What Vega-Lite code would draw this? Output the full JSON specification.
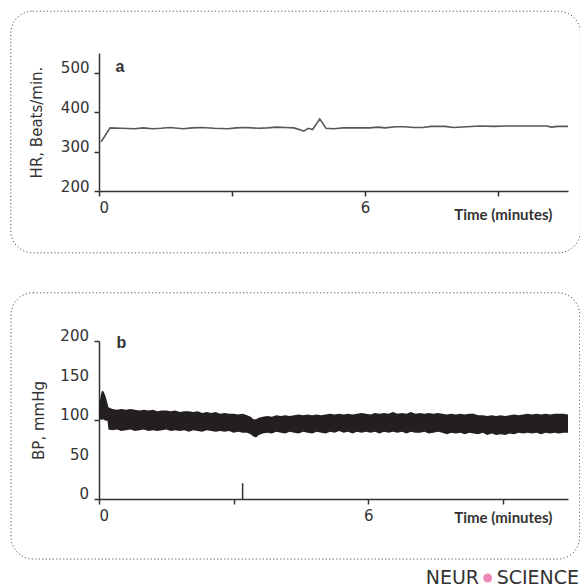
{
  "$schema": "https://vega.github.io/schema/vega-lite/v6.json",
  "padding": {"left": 10, "top": 10, "right": 0, "bottom": 0},
  "bounds": "flush",
  "spacing": 150,
  "config": {
    "view": {"stroke": null},
    "axis": {
      "grid": false,
      "domainColor": "#333",
      "tickColor": "#333",
      "labelColor": "#333",
      "titleColor": "#333",
      "domainWidth": 1.5,
      "tickWidth": 1.5,
      "tickSize": 5,
      "labelOverlap": false,
      "labelFont": "DejaVu Sans",
      "labelFontSize": 15,
      "titleFont": "DejaVu Sans",
      "titleFontSize": 15,
      "titleFontWeight": "normal"
    }
  },
  "datasets": {
    "hr": [
      {"t": 0.05, "hr": 325}, {"t": 0.25, "hr": 360}, {"t": 0.5, "hr": 359}, {"t": 0.8, "hr": 358},
      {"t": 1.0, "hr": 360}, {"t": 1.2, "hr": 358}, {"t": 1.4, "hr": 359}, {"t": 1.6, "hr": 361},
      {"t": 1.9, "hr": 358}, {"t": 2.1, "hr": 360}, {"t": 2.3, "hr": 361}, {"t": 2.6, "hr": 359},
      {"t": 2.9, "hr": 358}, {"t": 3.1, "hr": 360}, {"t": 3.3, "hr": 361}, {"t": 3.6, "hr": 359},
      {"t": 3.8, "hr": 360}, {"t": 4.0, "hr": 362}, {"t": 4.2, "hr": 361}, {"t": 4.4, "hr": 360},
      {"t": 4.55, "hr": 355}, {"t": 4.62, "hr": 352}, {"t": 4.72, "hr": 359}, {"t": 4.82, "hr": 356},
      {"t": 4.98, "hr": 383}, {"t": 5.12, "hr": 359}, {"t": 5.3, "hr": 358}, {"t": 5.5, "hr": 360},
      {"t": 5.8, "hr": 360}, {"t": 6.1, "hr": 360}, {"t": 6.3, "hr": 362}, {"t": 6.45, "hr": 360},
      {"t": 6.7, "hr": 363}, {"t": 6.9, "hr": 363}, {"t": 7.1, "hr": 361}, {"t": 7.3, "hr": 361},
      {"t": 7.5, "hr": 364}, {"t": 7.8, "hr": 364}, {"t": 8.0, "hr": 361}, {"t": 8.3, "hr": 363},
      {"t": 8.6, "hr": 365}, {"t": 8.9, "hr": 364}, {"t": 9.2, "hr": 365}, {"t": 9.5, "hr": 365},
      {"t": 9.8, "hr": 365}, {"t": 10.1, "hr": 365}, {"t": 10.2, "hr": 362}, {"t": 10.35, "hr": 364},
      {"t": 10.58, "hr": 364}
    ],
    "bp": [
      {"t": 0.0, "lo": 100, "hi": 117}, {"t": 0.03, "lo": 101, "hi": 128}, {"t": 0.06, "lo": 100, "hi": 136},
      {"t": 0.09, "lo": 101, "hi": 137}, {"t": 0.12, "lo": 100, "hi": 134}, {"t": 0.15, "lo": 99, "hi": 129},
      {"t": 0.19, "lo": 99, "hi": 121}, {"t": 0.21, "lo": 88, "hi": 116}, {"t": 0.3, "lo": 87, "hi": 114},
      {"t": 0.4, "lo": 88, "hi": 113}, {"t": 0.5, "lo": 86, "hi": 114}, {"t": 0.6, "lo": 87, "hi": 113},
      {"t": 0.7, "lo": 88, "hi": 114}, {"t": 0.8, "lo": 86, "hi": 113}, {"t": 0.9, "lo": 87, "hi": 112},
      {"t": 1.0, "lo": 88, "hi": 113}, {"t": 1.1, "lo": 86, "hi": 112}, {"t": 1.2, "lo": 87, "hi": 113},
      {"t": 1.3, "lo": 86, "hi": 111}, {"t": 1.4, "lo": 87, "hi": 112}, {"t": 1.5, "lo": 88, "hi": 112},
      {"t": 1.6, "lo": 86, "hi": 111}, {"t": 1.7, "lo": 87, "hi": 112}, {"t": 1.8, "lo": 86, "hi": 110},
      {"t": 1.9, "lo": 87, "hi": 111}, {"t": 2.0, "lo": 85, "hi": 111}, {"t": 2.1, "lo": 87, "hi": 110},
      {"t": 2.2, "lo": 86, "hi": 111}, {"t": 2.3, "lo": 85, "hi": 109}, {"t": 2.4, "lo": 87, "hi": 110},
      {"t": 2.5, "lo": 86, "hi": 109}, {"t": 2.6, "lo": 85, "hi": 110}, {"t": 2.7, "lo": 86, "hi": 108},
      {"t": 2.8, "lo": 85, "hi": 109}, {"t": 2.9, "lo": 86, "hi": 108}, {"t": 3.0, "lo": 84, "hi": 108},
      {"t": 3.1, "lo": 85, "hi": 107}, {"t": 3.2, "lo": 84, "hi": 108}, {"t": 3.3, "lo": 84, "hi": 106},
      {"t": 3.38, "lo": 82, "hi": 104}, {"t": 3.44, "lo": 79, "hi": 101}, {"t": 3.5, "lo": 78, "hi": 101},
      {"t": 3.56, "lo": 81, "hi": 103}, {"t": 3.65, "lo": 83, "hi": 104}, {"t": 3.75, "lo": 84, "hi": 105},
      {"t": 3.85, "lo": 83, "hi": 104}, {"t": 3.95, "lo": 85, "hi": 106}, {"t": 4.05, "lo": 84, "hi": 105},
      {"t": 4.15, "lo": 83, "hi": 106}, {"t": 4.25, "lo": 85, "hi": 105}, {"t": 4.35, "lo": 84, "hi": 106},
      {"t": 4.45, "lo": 83, "hi": 107}, {"t": 4.55, "lo": 85, "hi": 106}, {"t": 4.65, "lo": 84, "hi": 107},
      {"t": 4.75, "lo": 83, "hi": 106}, {"t": 4.85, "lo": 85, "hi": 107}, {"t": 4.95, "lo": 84, "hi": 106},
      {"t": 5.05, "lo": 83, "hi": 107}, {"t": 5.15, "lo": 85, "hi": 108}, {"t": 5.25, "lo": 84, "hi": 107},
      {"t": 5.35, "lo": 86, "hi": 108}, {"t": 5.45, "lo": 84, "hi": 107}, {"t": 5.55, "lo": 85, "hi": 108},
      {"t": 5.65, "lo": 83, "hi": 107}, {"t": 5.75, "lo": 85, "hi": 108}, {"t": 5.85, "lo": 84, "hi": 109},
      {"t": 5.95, "lo": 85, "hi": 108}, {"t": 6.05, "lo": 84, "hi": 107}, {"t": 6.15, "lo": 85, "hi": 109},
      {"t": 6.25, "lo": 83, "hi": 108}, {"t": 6.35, "lo": 85, "hi": 109}, {"t": 6.45, "lo": 84, "hi": 108},
      {"t": 6.55, "lo": 85, "hi": 110}, {"t": 6.65, "lo": 84, "hi": 108}, {"t": 6.75, "lo": 85, "hi": 109},
      {"t": 6.85, "lo": 83, "hi": 108}, {"t": 6.95, "lo": 85, "hi": 110}, {"t": 7.05, "lo": 84, "hi": 108},
      {"t": 7.15, "lo": 84, "hi": 109}, {"t": 7.25, "lo": 85, "hi": 108}, {"t": 7.35, "lo": 83, "hi": 109},
      {"t": 7.45, "lo": 84, "hi": 108}, {"t": 7.55, "lo": 85, "hi": 109}, {"t": 7.65, "lo": 84, "hi": 108},
      {"t": 7.75, "lo": 82, "hi": 107}, {"t": 7.85, "lo": 84, "hi": 108}, {"t": 7.95, "lo": 83, "hi": 107},
      {"t": 8.05, "lo": 84, "hi": 108}, {"t": 8.15, "lo": 82, "hi": 107}, {"t": 8.25, "lo": 84, "hi": 108},
      {"t": 8.35, "lo": 83, "hi": 108}, {"t": 8.45, "lo": 82, "hi": 106}, {"t": 8.55, "lo": 84, "hi": 106},
      {"t": 8.65, "lo": 81, "hi": 105}, {"t": 8.75, "lo": 83, "hi": 106}, {"t": 8.85, "lo": 81, "hi": 105},
      {"t": 8.95, "lo": 82, "hi": 106}, {"t": 9.05, "lo": 81, "hi": 105}, {"t": 9.15, "lo": 83, "hi": 106},
      {"t": 9.25, "lo": 82, "hi": 107}, {"t": 9.35, "lo": 84, "hi": 106}, {"t": 9.45, "lo": 83, "hi": 107},
      {"t": 9.55, "lo": 84, "hi": 108}, {"t": 9.65, "lo": 83, "hi": 107}, {"t": 9.75, "lo": 84, "hi": 108},
      {"t": 9.85, "lo": 82, "hi": 107}, {"t": 9.95, "lo": 84, "hi": 108}, {"t": 10.05, "lo": 83, "hi": 107},
      {"t": 10.15, "lo": 84, "hi": 108}, {"t": 10.25, "lo": 83, "hi": 108}, {"t": 10.35, "lo": 84, "hi": 108},
      {"t": 10.45, "lo": 84, "hi": 107}
    ],
    "bpTicks": [{"v": 0}, {"v": 50}, {"v": 100}, {"v": 150}, {"v": 200}]
  },
  "vconcat": [
    {
      "width": 469,
      "height": 138,
      "layer": [
        {
          "data": {"name": "hr"},
          "mark": {"type": "line", "color": "#585858", "strokeWidth": 1.6},
          "encoding": {
            "x": {
              "field": "t", "type": "quantitative",
              "scale": {"domain": [0, 10.58], "nice": false, "zero": false},
              "axis": {
                "values": [0, 3, 6, 9],
                "labelExpr": "datum.value == 0 || datum.value == 6 ? datum.label : ''",
                "labelOverlap": false, "labelPadding": 4,
                "title": "Time (minutes)",
                "titleFont": "Lato", "titleFontWeight": "bold", "titleFontSize": 15,
                "titleAlign": "right", "titleBaseline": "middle", "titleX": 453, "titleY": 23
              }
            },
            "y": {
              "field": "hr", "type": "quantitative",
              "scale": {"domain": [200, 550], "nice": false, "zero": false},
              "axis": {
                "values": [200, 250, 300, 350, 400, 450, 500, 550],
                "labelExpr": "datum.value % 100 == 0 ? datum.label : ''",
                "labelOverlap": false, "labelOffset": -5, "labelPadding": 5,
                "title": "HR, Beats/min.", "titleX": -58, "titleBaseline": "alphabetic"
              }
            }
          }
        },
        {
          "data": {"values": [{}]},
          "mark": {"type": "rect", "clip": false, "fill": "transparent", "stroke": "#555", "strokeWidth": 1, "strokeDash": [1.2, 2.3], "cornerRadius": 22},
          "encoding": {
            "x": {"datum": -1.99, "type": "quantitative"},
            "x2": {"datum": 10.86},
            "y": {"datum": 656, "type": "quantitative"},
            "y2": {"datum": 43}
          }
        },
        {
          "data": {"values": [{"label": "a"}]},
          "mark": {"type": "text", "font": "Liberation Sans", "fontSize": 16, "fontWeight": "bold", "color": "#333", "align": "center", "baseline": "middle"},
          "encoding": {
            "x": {"datum": 0.47, "type": "quantitative"},
            "y": {"datum": 514, "type": "quantitative"},
            "text": {"field": "label"}
          }
        }
      ]
    },
    {
      "width": 469,
      "height": 158,
      "layer": [
        {
          "data": {"name": "bp"},
          "mark": {"type": "area", "color": "#231f20", "opacity": 1},
          "encoding": {
            "x": {
              "field": "t", "type": "quantitative",
              "scale": {"domain": [0, 10.45], "nice": false, "zero": false},
              "axis": {
                "values": [0, 3, 6, 9],
                "labelExpr": "datum.value == 0 || datum.value == 6 ? datum.label : ''",
                "labelOverlap": false, "labelPadding": 4,
                "title": "Time (minutes)",
                "titleFont": "Lato", "titleFontWeight": "bold", "titleFontSize": 15,
                "titleAlign": "right", "titleBaseline": "middle", "titleX": 453, "titleY": 18
              }
            },
            "y": {
              "field": "lo", "type": "quantitative",
              "scale": {"domain": [0, 200], "nice": false, "zero": false},
              "axis": {
                "values": [0, 25, 50, 75, 100, 125, 150, 175, 200],
                "labels": false,
                "title": "BP, mmHg", "titleX": -56, "titleBaseline": "alphabetic"
              }
            },
            "y2": {"field": "hi"}
          }
        },
        {
          "data": {"name": "bpTicks"},
          "mark": {"type": "text", "clip": false, "font": "DejaVu Sans", "fontSize": 15, "color": "#333", "align": "right", "baseline": "middle", "dx": -10, "dy": -5},
          "encoding": {
            "x": {"datum": 0, "type": "quantitative"},
            "y": {"field": "v", "type": "quantitative"},
            "text": {"field": "v", "type": "quantitative"}
          }
        },
        {
          "data": {"values": [{}]},
          "mark": {"type": "rule", "color": "#333", "strokeWidth": 1.5},
          "encoding": {
            "x": {"datum": 3.2, "type": "quantitative"},
            "y": {"datum": 0, "type": "quantitative"},
            "y2": {"datum": 20}
          }
        },
        {
          "data": {"values": [{}]},
          "mark": {"type": "rect", "clip": false, "fill": "transparent", "stroke": "#555", "strokeWidth": 1, "strokeDash": [1.2, 2.3], "cornerRadius": 22},
          "encoding": {
            "x": {"datum": -1.96, "type": "quantitative"},
            "x2": {"datum": 10.71},
            "y": {"datum": 261, "type": "quantitative"},
            "y2": {"datum": -76}
          }
        },
        {
          "data": {"values": [{"label": "b"}]},
          "mark": {"type": "text", "font": "Liberation Sans", "fontSize": 16, "fontWeight": "bold", "color": "#333", "align": "center", "baseline": "middle"},
          "encoding": {
            "x": {"datum": 0.5, "type": "quantitative"},
            "y": {"datum": 197, "type": "quantitative"},
            "text": {"field": "label"}
          }
        },
        {
          "data": {"values": [{"label": "NEUR"}]},
          "mark": {"type": "text", "clip": false, "font": "DejaVu Sans", "fontSize": 19, "color": "#333", "align": "left", "baseline": "middle"},
          "encoding": {
            "x": {"datum": 7.28, "type": "quantitative"},
            "y": {"datum": -100, "type": "quantitative"},
            "text": {"field": "label"}
          }
        },
        {
          "data": {"values": [{}]},
          "mark": {"type": "point", "clip": false, "filled": true, "color": "#e8559c", "opacity": 0.7, "size": 80},
          "encoding": {
            "x": {"datum": 8.66, "type": "quantitative"},
            "y": {"datum": -100, "type": "quantitative"}
          }
        },
        {
          "data": {"values": [{"label": "SCIENCE"}]},
          "mark": {"type": "text", "clip": false, "font": "DejaVu Sans", "fontSize": 19, "color": "#333", "align": "left", "baseline": "middle"},
          "encoding": {
            "x": {"datum": 8.86, "type": "quantitative"},
            "y": {"datum": -100, "type": "quantitative"},
            "text": {"field": "label"}
          }
        }
      ]
    }
  ]
}
